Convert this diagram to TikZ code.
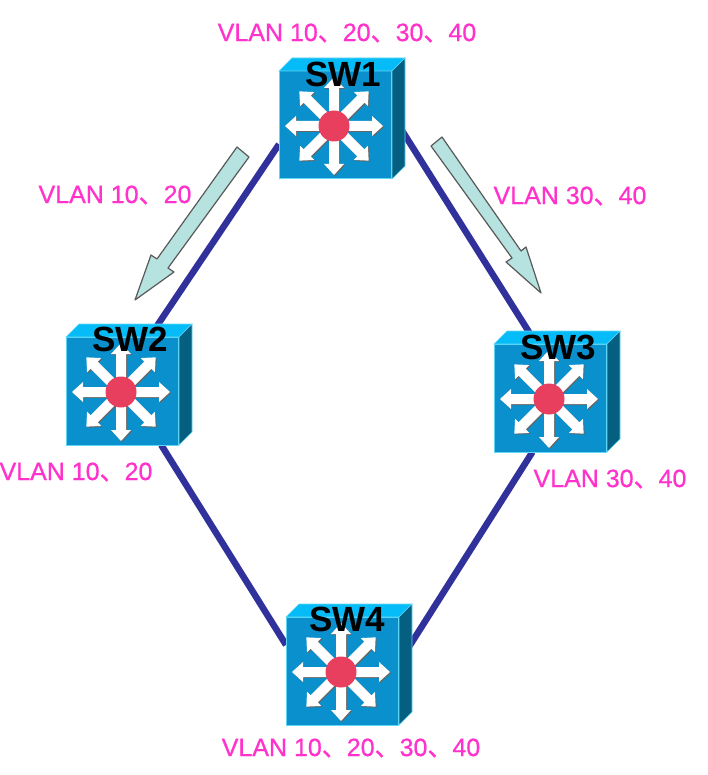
\documentclass[tikz,border=0pt]{standalone}
\usepackage{fontspec}
\setmainfont{Liberation Sans}
\newfontfamily\vlanf[FakeBold=0.8]{Liberation Sans}
\newfontfamily\cjkf[FakeBold=0.8]{Noto Sans CJK SC}
\newcommand{\dun}{{\cjkf 、}}
\usetikzlibrary{backgrounds}
\definecolor{frontc}{HTML}{0A90CC}
\definecolor{topc}{HTML}{06BCF8}
\definecolor{sidec}{HTML}{045F80}
\definecolor{edgec}{HTML}{5FD6F5}
\definecolor{hubc}{HTML}{E83F5F}
\definecolor{linkc}{HTML}{31319C}
\definecolor{pinkc}{HTML}{FF33CC}
\definecolor{arrowc}{HTML}{B6E2DF}
\tikzset{
  swface/.style={rectangle,minimum width=112pt,minimum height=108pt,inner sep=0pt,outer sep=0pt,fill=frontc,draw=edgec,line width=1pt},
  swname/.style={font=\bfseries\fontsize{35}{35}\selectfont,text=black,inner sep=0pt},
  vlan/.style={font=\vlanf\fontsize{25}{27}\selectfont,text=pinkc,inner sep=0pt},
  link/.style={draw=linkc,line width=6.5pt},
  flow/.style={draw=black!65,fill=arrowc,line width=1.2pt,line join=round},
  switchbody/.pic={
    \fill[topc,draw=edgec,line width=.6pt] (-56,54)--(-43,67)--(70,67)--(57,54)--cycle;
    \fill[sidec,draw=edgec,line width=.6pt] (57,54)--(70,67)--(70,-41)--(57,-54)--cycle;
    \foreach \a in {0,45,...,315}{
      \fill[black!60,shift={(0,-2)},rotate=\a] (0,-5)--(38,-5)--(38,-10)--(49,0)--(38,10)--(38,5)--(0,5)--cycle;
    }
    \foreach \a in {0,45,...,315}{
      \fill[white,shift={(-1,-1)},rotate=\a] (0,-5)--(38,-5)--(38,-10)--(49,0)--(38,10)--(38,5)--(0,5)--cycle;
    }
    \fill[hubc] (-1,-1) circle (15.5);
  }
}
\begin{document}
\begin{tikzpicture}[x=1pt,y=1pt]
\useasboundingbox (0,0) rectangle (707,-775);
\node[swface] (sw1) at (335,-125) {};
\node[swface] (sw2) at (122,-391) {};
\node[swface] (sw3) at (550,-398) {};
\node[swface] (sw4) at (342,-671) {};
\begin{pgfonlayer}{background}
  \draw[link] (sw1.199.6) -- (sw2.63.4);
  \draw[link] (sw1.12) -- (sw3.104.5);
  \draw[link] (sw2.-54) -- (sw4.155);
  \draw[link] (sw3.-108.4) -- (sw4.7);
\end{pgfonlayer}
\pic at (sw1.center) {switchbody};
\pic at (sw2.center) {switchbody};
\pic at (sw3.center) {switchbody};
\pic at (sw4.center) {switchbody};
\node[swname] (n1) at (343,-74) {SW1};
\node[swname] (n2) at (130,-339) {SW2};
\node[swname] (n3) at (558,-347) {SW3};
\node[swname] (n4) at (347,-619) {SW4};
\node[vlan] (l1) at (347,-33) {VLAN 10\dun 20\dun 30\dun 40};
\node[vlan] (l2) at (115,-195) {VLAN 10\dun 20};
\node[vlan] (l3) at (570,-196) {VLAN 30\dun 40};
\node[vlan] (l4) at (76,-472) {VLAN 10\dun 20};
\node[vlan] (l5) at (610,-479) {VLAN 30\dun 40};
\node[vlan] (l6) at (351,-748) {VLAN 10\dun 20\dun 30\dun 40};
\draw[flow] (237,-147)--(249,-157)--(168,-268)--(174,-272)--(135,-300)--(151,-255)--(157,-259)--cycle;
\draw[flow] (442,-137)--(431,-146)--(512,-258)--(506,-262)--(541,-293)--(526,-247)--(521,-251)--cycle;
\end{tikzpicture}
\end{document}
